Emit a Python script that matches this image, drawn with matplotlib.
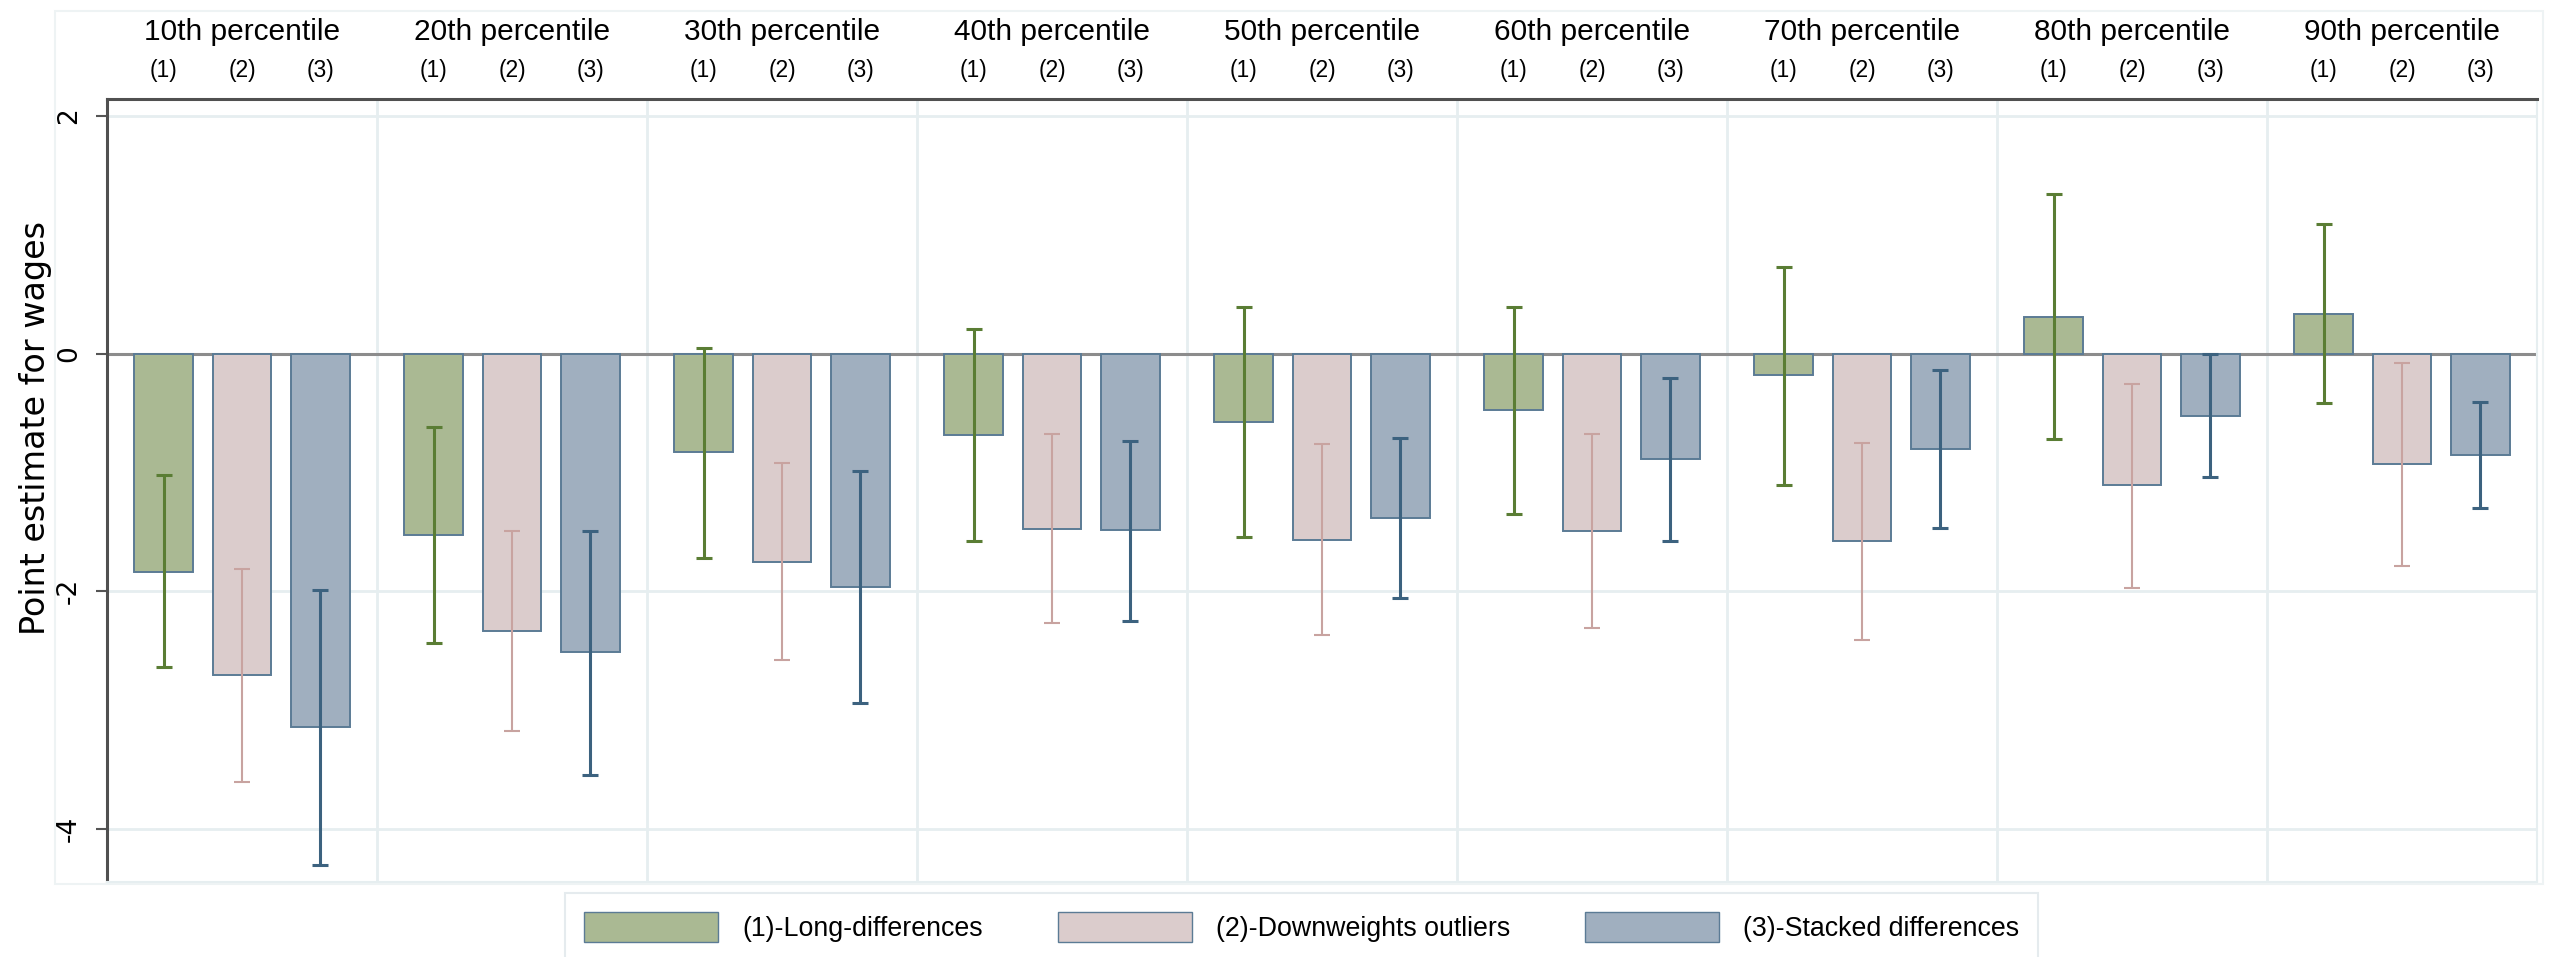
import numpy as np
import matplotlib.pyplot as plt
from matplotlib.patches import Patch, Rectangle

plt.rcParams['axes.unicode_minus'] = False

groups = ['10th percentile', '20th percentile', '30th percentile', '40th percentile',
          '50th percentile', '60th percentile', '70th percentile', '80th percentile',
          '90th percentile']
models = ['(1)', '(2)', '(3)']
legend_labels = ['(1)-Long-differences', '(2)-Downweights outliers', '(3)-Stacked differences']

# point estimates and CI bounds
est_long = [-1.835, -1.523, -0.830, -0.687, -0.572, -0.476, -0.183, 0.310, 0.332]
lo_long = [-2.639, -2.435, -1.721, -1.579, -1.541, -1.346, -1.103, -0.716, -0.416]
hi_long = [-1.025, -0.615, 0.047, 0.204, 0.392, 0.392, 0.730, 1.345, 1.094]

est_down = [-2.705, -2.333, -1.754, -1.476, -1.569, -1.496, -1.576, -1.106, -0.926]
lo_down = [-3.607, -3.175, -2.578, -2.267, -2.366, -2.310, -2.412, -1.971, -1.784]
hi_down = [-1.808, -1.490, -0.924, -0.679, -0.761, -0.673, -0.749, -0.252, -0.077]

est_stack = [-3.145, -2.513, -1.961, -1.487, -1.386, -0.887, -0.801, -0.526, -0.855]
lo_stack = [-4.300, -3.547, -2.936, -2.252, -2.059, -1.580, -1.469, -1.039, -1.297]
hi_stack = [-1.985, -1.490, -0.990, -0.732, -0.707, -0.203, -0.141, -0.003, -0.403]

fills = ['#aab993', '#dbcccc', '#a0afbf']
ci_cols = ['#5a7d34', '#c8a3a0', '#3c627f']
ci_lw = [2.2, 1.5, 2.2]
edge = '#5b7b95'
grid_col = '#e6eef0'
label_font = ['Liberation Sans', 'DejaVu Sans']

fig = plt.figure(figsize=(25.51, 9.57), dpi=100)
# faint outer frame round the graph region
fig.patches.append(Rectangle((55 / 2551, 1 - 884 / 957), (2543 - 55) / 2551, (884 - 11) / 957,
                             transform=fig.transFigure, fill=False,
                             edgecolor='#eef3f4', lw=1.5, zorder=0))
ax = fig.add_axes([107 / 2551, 1 - 882 / 957, (2537 - 107) / 2551, (882 - 99) / 957])

n = len(groups)
centers = np.arange(n) + 0.5
offsets = [-0.289, 0.0, 0.289]
width = 0.2185

series = [(est_long, lo_long, hi_long), (est_down, lo_down, hi_down), (est_stack, lo_stack, hi_stack)]
for k, (est, lo, hi) in enumerate(series):
    est = np.array(est)
    x = centers + offsets[k]
    ax.bar(x, est, width=width, color=fills[k], edgecolor=edge, linewidth=1.4, zorder=3)
    yerr = [est - np.array(lo), np.array(hi) - est]
    ax.errorbar(x, est, yerr=yerr, fmt='none', ecolor=ci_cols[k], elinewidth=ci_lw[k],
                capsize=5.8, capthick=ci_lw[k], zorder=4)

# gridlines and group separators
for yv in [2, -2, -4]:
    ax.axhline(yv, color=grid_col, lw=2, zorder=1)
for xv in range(1, n):
    ax.axvline(xv, color=grid_col, lw=2, zorder=1)
ax.axhline(0, color='#8c8c8c', lw=2.2, zorder=2)

ax.set_xlim(0, n)
ax.set_ylim(-4.446, 2.143)
ax.set_xticks([])
ax.set_yticks([2, 0, -2, -4])
ax.tick_params(axis='y', length=8, width=1.5, color='#555555', pad=10,
               labelsize=19, labelrotation=90)
for lab in ax.get_yticklabels():
    lab.set_verticalalignment('center')

for side in ['left', 'top']:
    ax.spines[side].set_color('#505050')
    ax.spines[side].set_linewidth(2.2)
for side in ['right', 'bottom']:
    ax.spines[side].set_color('#e6eef0')
    ax.spines[side].set_linewidth(1.5)

ax.set_ylabel('Point estimate for wages', fontsize=24)
ax.yaxis.set_label_coords(-0.0226, 0.58)

trans = ax.get_xaxis_transform()
for i, g in enumerate(groups):
    ax.text(centers[i], 1.0862, g, transform=trans, ha='center', va='center',
            fontsize=21.5, family=label_font)
    for k, m in enumerate(models):
        ax.text(centers[i] + offsets[k], 1.037, m, transform=trans, ha='center',
                va='center', fontsize=16.5, family=label_font)

handles = [Patch(facecolor=fills[k], edgecolor=edge, linewidth=1, label=legend_labels[k])
           for k in range(3)]
leg = fig.legend(handles=handles, loc='upper center', bbox_to_anchor=(0.5102, 1 - 893 / 957),
                 ncol=3, frameon=True, fancybox=False, edgecolor='#dfe7ea',
                 prop={'family': label_font, 'size': 19.3}, handlelength=5.0,
                 handleheight=1.34, handletextpad=0.9, columnspacing=2.8,
                 borderpad=0.7, borderaxespad=0)
leg.get_frame().set_linewidth(1.5)

fig.savefig('out.png', dpi=100)
